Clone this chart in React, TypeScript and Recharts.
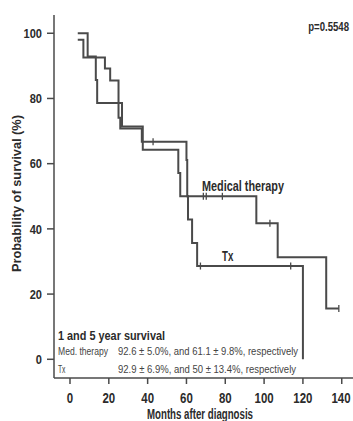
import { ComposedChart, Line, Scatter, XAxis, YAxis } from "recharts";

// Kaplan-Meier step points (months, % surviving)
const txMonths = [4, 9.1, 13.3, 14, 26.8, 37.5, 55.8, 56.8, 60.8, 62.9, 65.5, 120];
const txSurvival = [100, 92.9, 85.7, 78.6, 71.4, 64.3, 57.1, 50, 42.9, 35.7, 28.6, 0];
const medMonths = [4, 6.9, 18, 20.7, 25, 25.9, 37, 60, 60.4, 96, 107, 132, 138.5];
const medSurvival = [98, 92.6, 89.2, 85.5, 74.1, 70.8, 66.7, 61.1, 50, 41.7, 31.3, 15.6, 15.6];

// censored observations
const txCensorMonths = [67.2, 113.7];
const txCensorSurvival = [28.6, 28.6];
const medCensorMonths = [42.8, 68.7, 70.2, 78.5, 103, 138.5];
const medCensorSurvival = [66.7, 50, 50, 50, 41.7, 15.6];

const xTicks = [0, 20, 40, 60, 80, 100, 120, 140];
const yTicks = [0, 20, 40, 60, 80, 100];

const txData = txMonths.map((t, i) => ({ t, s: txSurvival[i] }));
const medData = medMonths.map((t, i) => ({ t, s: medSurvival[i] }));
const txCensor = txCensorMonths.map((t, i) => ({ t, s: txCensorSurvival[i] }));
const medCensor = medCensorMonths.map((t, i) => ({ t, s: medCensorSurvival[i] }));

const LINE = "#4a4a4a";
const INK = "#2b2b2b";
const FONT = "'Liberation Sans', Arial, sans-serif";
const X_DOMAIN = [-8.24, 145.8];

const CensorMark = (p: any) => (
  <line x1={p.cx} x2={p.cx} y1={p.cy - 3.5} y2={p.cy + 3.5} stroke={LINE} strokeWidth={1.3} />
);

// condensed bold tick labels (the original uses a narrow face)
const YTick = (p: any) => {
  const x = p.x;
  const y = p.y + 4.7;
  return (
    <text x={x} y={y} textAnchor="end" fontSize={13.5} fontWeight={700} fill={INK} fontFamily={FONT}
      transform={`translate(${x} ${y}) scale(0.82 1) translate(${-x} ${-y})`}>
      {p.payload.value}
    </text>
  );
};

const XTick = (p: any) => {
  const x = p.x;
  const y = 402.7;
  return (
    <text x={x} y={y} textAnchor="middle" fontSize={14.5} fontWeight={700} fill={INK} fontFamily={FONT}
      transform={`translate(${x} ${y}) scale(0.79 1) translate(${-x} ${-y})`}>
      {p.payload.value}
    </text>
  );
};

const Txt = ({ x, y, w, size, bold, fill, children }: any) => (
  <text x={x} y={y} fontSize={size} fontWeight={bold ? 700 : 400} fill={fill || INK}
    textLength={w} lengthAdjust="spacingAndGlyphs">
    {children}
  </text>
);

export default function App() {
  return (
    <div style={{ position: "absolute", left: 0, top: 0, width: 353, height: 421, background: "#fff" }}>
      <ComposedChart width={353} height={421} margin={{ top: 15, right: 0, bottom: 0, left: 0 }}>
        <XAxis
          xAxisId="top"
          orientation="top"
          type="number"
          dataKey="t"
          domain={X_DOMAIN}
          height={0}
          tick={false}
          tickLine={false}
          axisLine={{ stroke: LINE, strokeWidth: 1.5 }}
        />
        <XAxis
          type="number"
          dataKey="t"
          domain={X_DOMAIN}
          ticks={xTicks}
          allowDataOverflow
          height={43}
          tickSize={6}
          tick={<XTick />}
          axisLine={{ stroke: LINE, strokeWidth: 1.5 }}
          tickLine={{ stroke: LINE, strokeWidth: 1.5 }}
        />
        <YAxis
          type="number"
          dataKey="s"
          domain={[-5.74, 105.6]}
          ticks={yTicks}
          allowDataOverflow
          width={54}
          tickSize={7}
          tickMargin={5}
          tick={<YTick />}
          axisLine={{ stroke: LINE, strokeWidth: 1.5 }}
          tickLine={{ stroke: LINE, strokeWidth: 1.5 }}
        />
        <Line data={medData} dataKey="s" type="stepAfter" stroke={LINE} strokeWidth={2} dot={false} isAnimationActive={false} />
        <Line data={txData} dataKey="s" type="stepAfter" stroke={LINE} strokeWidth={2} dot={false} isAnimationActive={false} />
        <Scatter data={medCensor} dataKey="s" shape={CensorMark} isAnimationActive={false} />
        <Scatter data={txCensor} dataKey="s" shape={CensorMark} isAnimationActive={false} />
      </ComposedChart>
      <svg width={353} height={421} style={{ position: "absolute", left: 0, top: 0, pointerEvents: "none" }} fontFamily={FONT}>
        <text x={20.7} y={193.5} transform="rotate(-90 20.7 193.5)" textAnchor="middle" fontSize={12.5} fontWeight={700} fill={INK}
          textLength={157} lengthAdjust="spacingAndGlyphs">
          Probability of survival (%)
        </text>
        <Txt x={147} y={419} w={106} size={14} bold>Months after diagnosis</Txt>
        <text x={349} y={31.5} textAnchor="end" fontSize={12} fontWeight={700} fill={INK}
          transform="translate(349 31.5) scale(0.8 1) translate(-349 -31.5)">
          p=0.5548
        </text>
        <Txt x={202} y={190.7} w={82} size={14.5} bold>Medical therapy</Txt>
        <Txt x={222} y={261} w={11.3} size={15} bold>Tx</Txt>
        <Txt x={58} y={340} w={107} size={13} bold>1 and 5 year survival</Txt>
        <Txt x={58} y={355} w={50} size={10} fill="#444">Med. therapy</Txt>
        <Txt x={118} y={355} w={180} size={10} fill="#444">92.6 ± 5.0%, and 61.1 ± 9.8%, respectively</Txt>
        <Txt x={58} y={373} w={7.5} size={10} fill="#444">Tx</Txt>
        <Txt x={118} y={373} w={178} size={10} fill="#444">92.9 ± 6.9%, and 50 ± 13.4%, respectively</Txt>
      </svg>
    </div>
  );
}
